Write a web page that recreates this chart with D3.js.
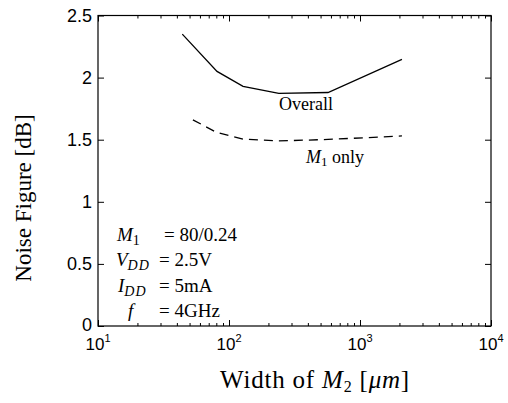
<!DOCTYPE html>
<html><head><meta charset="utf-8">
<script src="https://cdn.jsdelivr.net/npm/d3@7/dist/d3.min.js"></script>
<style>body{margin:0;background:#fff}svg{display:block}</style>
</head><body><svg id="c" width="508" height="403"></svg>
<script>
const overallW = [44, 81, 128, 240, 570, 2090];
const overallNF = [2.35, 2.05, 1.93, 1.873, 1.88, 2.146];
const m1W = [53, 80, 128, 240, 570, 2090];
const m1NF = [1.66, 1.56, 1.505, 1.49, 1.502, 1.53];
const yTicks = [0, 0.5, 1, 1.5, 2, 2.5];
const yTickLabels = ["0", "0.5", "1", "1.5", "2", "2.5"];
const xDecades = [10, 100, 1000, 10000];
const xDecadeExp = ["1", "2", "3", "4"];

const svg = d3.select("#c");
const L = 98, R = 491, T = 15.5, B = 326;
const x = d3.scaleLog().domain([10, 10000]).range([L, R]);
const y = d3.scaleLinear().domain([0, 2.5]).range([B, T]);

const minor = [];
for (let d = 10; d < 10000; d *= 10) for (let k = 2; k <= 9; k++) minor.push(d * k);

const g = svg.append("g");
[[d3.axisBottom, B], [d3.axisTop, T]].forEach(([ax, pos]) => {
  g.append("g").attr("transform", `translate(0,${pos})`)
    .call(ax(x).tickValues(minor).tickSize(-3).tickFormat(""))
    .call(s => s.select(".domain").remove())
    .call(s => s.selectAll("line").attr("stroke", "#000"));
  g.append("g").attr("transform", `translate(0,${pos})`)
    .call(ax(x).tickValues(xDecades).tickSize(-6).tickFormat(""))
    .call(s => s.select(".domain").remove())
    .call(s => s.selectAll("line").attr("stroke", "#000"));
});
[[d3.axisLeft, L], [d3.axisRight, R]].forEach(([ax, pos]) => {
  g.append("g").attr("transform", `translate(${pos},0)`)
    .call(ax(y).tickValues(yTicks).tickSize(-6).tickFormat(""))
    .call(s => s.select(".domain").remove())
    .call(s => s.selectAll("line").attr("stroke", "#000"));
});
g.append("rect").attr("x", L).attr("y", T).attr("width", R - L).attr("height", B - T)
  .attr("fill", "none").attr("stroke", "#000").attr("stroke-width", 1.2);

g.selectAll(".yl").data(yTicks).join("text")
  .attr("x", L - 6).attr("y", d => y(d) + 6.5 - (d === 0 ? 1.5 : 0))
  .attr("text-anchor", "end").attr("font-family", "Liberation Sans, Arial, sans-serif")
  .attr("font-size", 18).text((d, i) => yTickLabels[i]);

xDecades.forEach((d, i) => {
  const t = g.append("text").attr("x", x(d)).attr("y", 350)
    .attr("text-anchor", "middle").attr("font-family", "Liberation Sans, Arial, sans-serif")
    .attr("font-size", 17);
  t.append("tspan").text("10");
  t.append("tspan").attr("dy", -8).attr("font-size", 11).text(xDecadeExp[i]);
});

const line = d3.line().x(d => x(d[0])).y(d => y(d[1]));
g.append("path").datum(overallW.map((w, i) => [w, overallNF[i]]))
  .attr("d", line).attr("fill", "none").attr("stroke", "#000").attr("stroke-width", 1.3);
g.append("path").datum(m1W.map((w, i) => [w, m1NF[i]]))
  .attr("d", line).attr("fill", "none").attr("stroke", "#000").attr("stroke-width", 1.3)
  .attr("stroke-dasharray", "9,6");

const serif = "Liberation Serif, Times New Roman, serif";
g.append("text").attr("x", 306).attr("y", 110).attr("text-anchor", "middle")
  .attr("font-family", serif).attr("font-size", 18).text("Overall");
const m1 = g.append("text").attr("x", 335).attr("y", 163).attr("text-anchor", "middle")
  .attr("font-family", serif).attr("font-size", 18);
m1.append("tspan").attr("font-style", "italic").text("M");
m1.append("tspan").attr("font-size", 13).attr("dy", 3).text("1");
m1.append("tspan").attr("dy", -3).text(" only");

const rows = [
  {s: "M", sub: "1", v: "= 80/0.24", xs: 117},
  {s: "V", sub: "DD", v: "= 2.5V", xs: 116},
  {s: "I", sub: "DD", v: "= 5mA", xs: 118},
  {s: "f", sub: "", v: "= 4GHz", xs: 128}
];
const base = [241, 266, 292, 317];
rows.forEach((r, i) => {
  const t = g.append("text").attr("x", r.xs).attr("y", base[i])
    .attr("font-family", serif).attr("font-size", 19);
  t.append("tspan").attr("font-style", "italic").text(r.s);
  if (r.sub) t.append("tspan").attr("font-style", r.sub === "1" ? "normal" : "italic")
    .attr("font-size", 14).attr("dy", 4).attr("letter-spacing", 1).text(r.sub);
  g.append("text").attr("x", i === 0 ? 164 : 159).attr("y", base[i])
    .attr("font-family", serif).attr("font-size", 19).text(r.v);
});

const xt = g.append("text").attr("x", 315).attr("y", 388).attr("text-anchor", "middle")
  .attr("font-family", serif).attr("font-size", 25).attr("letter-spacing", 0.8);
xt.append("tspan").text("Width of ");
xt.append("tspan").attr("font-style", "italic").text("M");
xt.append("tspan").attr("font-size", 16).attr("dy", 4).text("2");
xt.append("tspan").attr("dy", -4).text(" [");
xt.append("tspan").attr("font-style", "italic").text("μm");
xt.append("tspan").text("]");

g.append("text").attr("transform", "translate(31,198) rotate(-90)")
  .attr("text-anchor", "middle").attr("font-family", serif).attr("font-size", 23)
  .text("Noise Figure [dB]");
</script></body></html>
